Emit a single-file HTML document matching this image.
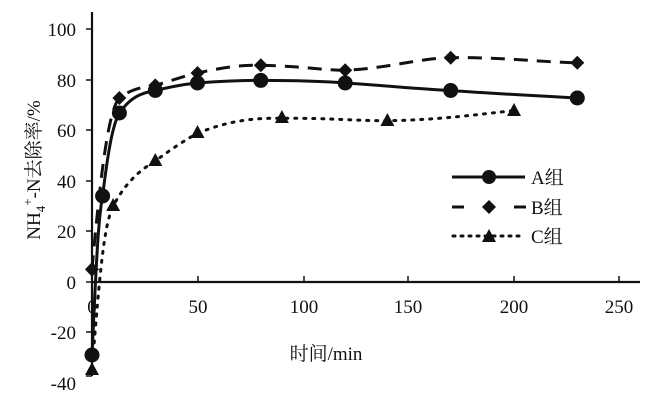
<!DOCTYPE html>
<html><head><meta charset="utf-8"><style>body{margin:0;background:#fff}svg{display:block}text{font-family:"Liberation Serif","Noto Serif CJK SC",serif;fill:#111}</style></head><body>
<svg width="650" height="406" viewBox="0 0 650 406">
<g stroke="#111" stroke-width="2.2" fill="none">
<line x1="92" y1="12" x2="92" y2="376"/>
<line x1="92" y1="282" x2="640" y2="282"/>
</g>
<g stroke="#111" stroke-width="1.5">
<line x1="86" y1="29" x2="92" y2="29"/><line x1="86" y1="80" x2="92" y2="80"/><line x1="86" y1="130" x2="92" y2="130"/><line x1="86" y1="181" x2="92" y2="181"/><line x1="86" y1="231" x2="92" y2="231"/><line x1="86" y1="282" x2="92" y2="282"/><line x1="86" y1="332" x2="92" y2="332"/><line x1="86" y1="376" x2="92" y2="376"/>
<line x1="198" y1="276" x2="198" y2="282"/><line x1="304" y1="276" x2="304" y2="282"/><line x1="408" y1="276" x2="408" y2="282"/><line x1="514" y1="276" x2="514" y2="282"/><line x1="619" y1="276" x2="619" y2="282"/>
</g>
<g font-size="19" text-anchor="end">
<text x="76" y="36">100</text><text x="76" y="87">80</text><text x="76" y="137">60</text><text x="76" y="188">40</text><text x="76" y="238">20</text><text x="76" y="289">0</text><text x="76" y="339">-20</text><text x="76" y="390">-40</text>
</g>
<g font-size="19" text-anchor="middle">
<text x="92" y="313">0</text><text x="198" y="313">50</text><text x="304" y="313">100</text><text x="408" y="313">150</text><text x="514" y="313">200</text><text x="619" y="313">250</text>
</g>
<text x="326" y="360" font-size="19" text-anchor="middle">时间/min</text>
<text transform="translate(40,170) rotate(-90)" font-size="19" text-anchor="middle">NH<tspan font-size="13" dy="5">4</tspan><tspan font-size="13" dy="-13">+</tspan><tspan dy="8">-N去除率/%</tspan></text>
<g fill="none" stroke="#111" stroke-width="3">
<path d="M92,355 C96,270 98,220 102.6,196 C107,160 112,125 119.4,113 C130,98 140,93 155.3,90.5 C170,87 185,84 197.5,83 C225,81 240,80.4 260.8,80.4 C300,80.5 320,81 345.2,83 C390,86 420,89 450.7,90.5 C500,94 540,96 577.3,98"/>
<path stroke-dasharray="14,9" d="M92,269.4 C100,180 108,110 119.4,98 C130,90 140,87 155.3,85.4 C170,81 185,76 197.5,73 C225,67 240,65 260.8,65.3 C300,66 320,70 345.2,70.3 C390,68 420,58 450.7,57.7 C500,57 540,62 577.3,62.8"/>
<path stroke-dasharray="2,7" stroke-linecap="round" d="M92,370 C100,270 104,225 113.1,206.4 C125,183 140,170 155.3,161 C170,150 185,140 197.5,133.3 C230,120 255,118 281.9,118.2 C330,118 360,121 387.4,120.7 C440,120 480,114 514,110.6"/>
</g>
<g fill="#111">
<circle cx="92" cy="355" r="7.5"/><circle cx="102.6" cy="196" r="7.5"/><circle cx="119.4" cy="113" r="7.5"/><circle cx="155.3" cy="90.5" r="7.5"/><circle cx="197.5" cy="83" r="7.5"/><circle cx="260.8" cy="80.4" r="7.5"/><circle cx="345.2" cy="83" r="7.5"/><circle cx="450.7" cy="90.5" r="7.5"/><circle cx="577.3" cy="98" r="7.5"/>
<g id="d"></g>
<path d="M92,262l7,7.4-7,7.4-7-7.4z M119.4,91l7,7-7,7-7-7z M155.3,78.4l7,7-7,7-7-7z M197.5,66l7,7-7,7-7-7z M260.8,58.3l7,7-7,7-7-7z M345.2,63.3l7,7-7,7-7-7z M450.7,50.7l7,7-7,7-7-7z M577.3,55.8l7,7-7,7-7-7z"/>
<path d="M92,362l7,13h-14z M113.1,198l7,13h-14z M155.3,153l7,13h-14z M197.5,125l7,13h-14z M281.9,110l7,13h-14z M387.4,113l7,13h-14z M514,103l7,13h-14z"/>
</g>
<g stroke="#111" stroke-width="3" fill="none">
<line x1="452" y1="177" x2="525" y2="177"/>
<path d="M452,207h12M514,207h12"/>
<line x1="453" y1="236" x2="525" y2="236" stroke-dasharray="2,6" stroke-linecap="round"/>
</g>
<g fill="#111">
<circle cx="489" cy="177" r="7"/>
<path d="M489,200l7,7-7,7-7-7z"/>
<path d="M489,229l7,13h-14z"/>
</g>
<g font-size="19"><text x="531" y="184">A组</text><text x="531" y="214">B组</text><text x="531" y="243">C组</text></g>
</svg>
</body></html>
